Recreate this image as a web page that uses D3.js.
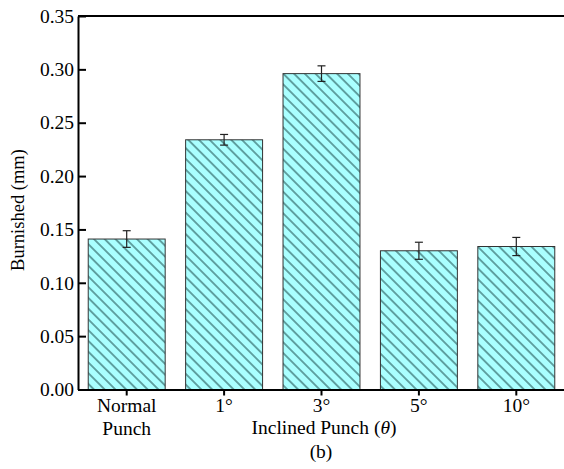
<!DOCTYPE html>
<html>
<head>
<meta charset="utf-8">
<script src="https://cdn.jsdelivr.net/npm/d3@7"></script>
<style>
  body { margin: 0; background: #fff; }
  svg text { font-family: "Liberation Serif", "Times New Roman", serif !important; fill: #000; }
  .axis path, .axis line { stroke: #000; }
</style>
</head>
<body>
<svg id="chart" width="564" height="469"></svg>
<script>
// data
var categories = ["Normal Punch", "1°", "3°", "5°", "10°"];
var tickLabels = [["Normal", "Punch"], ["1°"], ["3°"], ["5°"], ["10°"]];
var burnished = [0.141, 0.234, 0.296, 0.130, 0.134];
var errors = [0.0078, 0.005, 0.0073, 0.008, 0.0085];
var yTicks = [0, 0.05, 0.10, 0.15, 0.20, 0.25, 0.30, 0.35];

var svg = d3.select("#chart");
var mLeft = 78, mRight = 565, mTop = 16, mBottom = 389.5;

var x = d3.scaleBand().domain(categories).range([mLeft, mRight])
    .paddingInner(0.21).paddingOuter(0.105);
var y = d3.scaleLinear().domain([0, 0.35]).range([mBottom, mTop]);

// hatch pattern
var defs = svg.append("defs");
var pat = defs.append("pattern")
    .attr("id", "hatch")
    .attr("patternUnits", "userSpaceOnUse")
    .attr("width", 7.6).attr("height", 7.6)
    .attr("patternTransform", "rotate(45)");
pat.append("rect").attr("width", 7.6).attr("height", 7.6).attr("fill", "#aaffff");
pat.append("line")
    .attr("x1", 0).attr("x2", 7.6).attr("y1", 3.8).attr("y2", 3.8)
    .attr("stroke", "#1a4848").attr("stroke-width", 1);

// bars
svg.selectAll("rect.bar")
  .data(burnished)
  .enter().append("rect")
  .attr("class", "bar")
  .attr("x", function(d, i) { return x(categories[i]); })
  .attr("width", x.bandwidth())
  .attr("y", function(d) { return y(d); })
  .attr("height", function(d) { return y(0) - y(d); })
  .attr("fill", "url(#hatch)")
  .attr("stroke", "#333")
  .attr("stroke-width", 1);

// error bars
var eb = svg.selectAll("g.err")
  .data(burnished)
  .enter().append("g")
  .attr("class", "err")
  .attr("transform", function(d, i) { return "translate(" + (x(categories[i]) + x.bandwidth() / 2) + ",0)"; });
eb.each(function(d, i) {
  var g = d3.select(this), e = errors[i];
  g.append("line").attr("x1", 0).attr("x2", 0).attr("y1", y(d + e)).attr("y2", y(d - e));
  g.append("line").attr("x1", -4).attr("x2", 4).attr("y1", y(d + e)).attr("y2", y(d + e));
  g.append("line").attr("x1", -4).attr("x2", 4).attr("y1", y(d - e)).attr("y2", y(d - e));
});
eb.selectAll("line").attr("stroke", "#222").attr("stroke-width", 1.2);

// y axis, ticks pointing inward
var yAxis = svg.append("g")
  .attr("class", "axis")
  .attr("transform", "translate(" + mLeft + ",0)")
  .call(d3.axisLeft(y).tickValues(yTicks).tickFormat(d3.format(".2f"))
    .tickSizeInner(-8).tickSizeOuter(0).tickPadding(4));
yAxis.select("path.domain").attr("stroke-width", 2);
yAxis.selectAll(".tick line").attr("stroke-width", 2);
yAxis.selectAll("text").style("font-size", "19.5px");

// x axis
var xAxis = svg.append("g")
  .attr("class", "axis")
  .attr("transform", "translate(0," + mBottom + ")")
  .call(d3.axisBottom(x).tickSizeInner(6).tickSizeOuter(0).tickPadding(3));
xAxis.select("path.domain").attr("stroke-width", 2);
xAxis.selectAll(".tick line").attr("stroke-width", 2);
xAxis.selectAll(".tick text").each(function(d, i) {
  var t = d3.select(this).text("").style("font-size", "19.5px");
  tickLabels[i].forEach(function(s, j) {
    t.append("tspan").attr("x", 0).attr("dy", j === 0 ? "0.71em" : "1.18em").text(s);
  });
});

// top frame line
svg.append("line")
  .attr("x1", mLeft).attr("x2", mRight).attr("y1", mTop).attr("y2", mTop)
  .attr("stroke", "#000").attr("stroke-width", 2);

// axis titles
svg.append("text")
  .attr("transform", "translate(24,210) rotate(-90)")
  .attr("text-anchor", "middle")
  .style("font-size", "18.5px")
  .text("Burnished (mm)");

var xt = svg.append("text")
  .attr("x", 324).attr("y", 434)
  .attr("text-anchor", "middle")
  .style("font-size", "19.5px");
xt.append("tspan").text("Inclined Punch (");
xt.append("tspan").style("font-style", "italic").text("θ");
xt.append("tspan").text(")");

svg.append("text")
  .attr("x", 321).attr("y", 458)
  .attr("text-anchor", "middle")
  .style("font-size", "19.5px")
  .text("(b)");
</script>
</body>
</html>
